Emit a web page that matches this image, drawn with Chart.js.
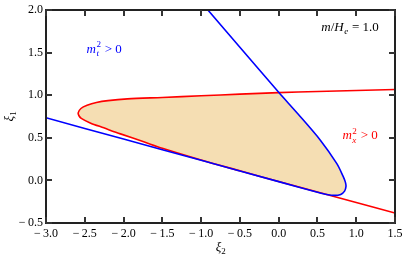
<!DOCTYPE html>
<html>
<head>
<meta charset="utf-8">
<script src="https://cdn.jsdelivr.net/npm/chart.js@4"></script>
<style>
  html, body { margin: 0; padding: 0; background: #fff; }
  canvas { display: block; }
</style>
</head>
<body>
<canvas id="chart" width="407" height="259"></canvas>
<script>
// valori (xi2, xi1)
const redX = [1.5, 1.0, 0.5, 0.0, -0.5, -1.0, -1.5, -1.95, -2.2, -2.35, -2.47, -2.55, -2.585,
              -2.575, -2.545, -2.43, -2.255, -2.04, -1.74, -1.5, -1.0, -0.5, 0.0, 0.5, 1.0, 1.5];
const redY = [1.068, 1.057, 1.045, 1.032, 1.014, 0.995, 0.975, 0.958, 0.938, 0.916, 0.883, 0.845, 0.794,
              0.76, 0.73, 0.676, 0.618, 0.547, 0.454, 0.378, 0.24, 0.113, -0.012, -0.135, -0.258, -0.382];

const blueX = [-3.0, -2.0, -1.0, 0.0, 0.5, 0.62, 0.72, 0.80, 0.85, 0.868, 0.86, 0.83, 0.75, 0.54, 0.25, 0.0, -0.5, -0.91];
const blueY = [0.736, 0.486, 0.236, -0.014, -0.139, -0.166, -0.176, -0.164, -0.125, -0.07, -0.02, 0.05, 0.197, 0.47, 0.78, 1.035, 1.565, 2.0];

const xTicks = [-3.0, -2.5, -2.0, -1.5, -1.0, -0.5, 0.0, 0.5, 1.0, 1.5];
const yTicks = [-0.5, 0.0, 0.5, 1.0, 1.5, 2.0];

const toPoints = (xs, ys) => xs.map((v, i) => ({ x: v, y: ys[i] }));
const redPts = toPoints(redX, redY);
const bluePts = toPoints(blueX, blueY);
// regione colorata: dentro la curva rossa e a sinistra di quella blu
const fillPts = redPts.slice(3, 24).concat(bluePts.slice(5, 16));

const fmt = v => (v < 0 ? '\u2212\u2009' : '') + Math.abs(v).toFixed(1);
const SERIF = '"Liberation Serif", "DejaVu Serif", serif';

// scrive testo "matematico" a pezzi
function richText(ctx, x, y, parts, color, size) {
  ctx.fillStyle = color;
  ctx.textBaseline = 'alphabetic';
  ctx.textAlign = 'left';
  let total = 0;
  const measure = p => {
    if (p.sup !== undefined) {
      ctx.font = (size * 0.7) + 'px ' + SERIF;
      const a = ctx.measureText(p.sup).width;
      ctx.font = 'italic ' + (size * 0.7) + 'px ' + SERIF;
      const b = ctx.measureText(p.sub).width;
      return Math.max(a, b) + 1;
    }
    ctx.font = (p.it ? 'italic ' : '') + size + 'px ' + SERIF;
    return ctx.measureText(p.t).width;
  };
  parts.forEach(p => total += measure(p));
  let cx = x - total / 2;
  parts.forEach(p => {
    const w = measure(p);
    if (p.sup !== undefined) {
      ctx.font = (size * 0.7) + 'px ' + SERIF;
      ctx.fillText(p.sup, cx + 0.5, y - size * 0.42);
      ctx.font = 'italic ' + (size * 0.7) + 'px ' + SERIF;
      ctx.fillText(p.sub, cx + 0.5, y + size * 0.25);
    } else {
      ctx.font = (p.it ? 'italic ' : '') + size + 'px ' + SERIF;
      ctx.fillText(p.t, cx, y);
    }
    cx += w;
  });
}

const decor = {
  id: 'decor',
  afterDraw(chart) {
    const { ctx, chartArea: a, scales } = chart;
    const sx = scales.x, sy = scales.y;
    ctx.save();
    const L = Math.round(a.left), R = Math.round(a.right);
    const T = Math.round(a.top), B = Math.round(a.bottom);

    // cornice
    ctx.fillStyle = '#222222';
    ctx.fillRect(L - 1, T - 1, R - L + 2, 2);
    ctx.fillRect(L - 1, B - 1, R - L + 2, 2);
    ctx.fillRect(L - 1, T - 1, 2, B - T + 2);
    ctx.fillRect(R - 1, T - 1, 2, B - T + 2);

    // tacche verso l'interno su tutti i lati
    ctx.fillStyle = '#333333';
    for (const v of xTicks) {
      const px = Math.round(sx.getPixelForValue(v));
      ctx.fillRect(px - 1, B - 6, 2, 6);
      ctx.fillRect(px - 1, T, 2, 6);
    }
    for (const v of yTicks) {
      const py = Math.round(sy.getPixelForValue(v));
      ctx.fillRect(L, py - 1, 6, 2);
      ctx.fillRect(R - 6, py - 1, 6, 2);
    }

    // etichette degli assi
    ctx.fillStyle = '#000';
    ctx.font = 'italic 13px ' + SERIF;
    ctx.textAlign = 'center';
    ctx.textBaseline = 'middle';
    const cxm = (a.left + a.right) / 2;
    ctx.fillText('\u03BE', cxm - 2, 248);
    ctx.font = '9px ' + SERIF;
    ctx.fillText('2', cxm + 3, 252);

    ctx.save();
    ctx.translate(10, (a.top + a.bottom) / 2);
    ctx.rotate(-Math.PI / 2);
    ctx.font = 'italic 13px ' + SERIF;
    ctx.fillText('\u03BE', -2, 0);
    ctx.font = '9px ' + SERIF;
    ctx.fillText('1', 3, 4);
    ctx.restore();

    // annotazioni
    richText(ctx, sx.getPixelForValue(-2.25), sy.getPixelForValue(1.55) + 4,
      [{ t: 'm', it: true }, { sup: '2', sub: 't' }, { t: ' > 0' }], '#0000ff', 13);
    richText(ctx, sx.getPixelForValue(1.05), sy.getPixelForValue(0.53) + 4,
      [{ t: 'm', it: true }, { sup: '2', sub: 'x' }, { t: ' > 0' }], '#ff0000', 13);
    richText(ctx, sx.getPixelForValue(0.92), sy.getPixelForValue(1.8) + 4,
      [{ t: 'm', it: true }, { t: '/' }, { t: 'H', it: true }, { sup: '', sub: 'e' }, { t: ' = 1.0' }], '#000', 13);

    ctx.restore();
  }
};

new Chart(document.getElementById('chart'), {
  type: 'line',
  data: {
    datasets: [
      {
        label: 'blu',
        data: bluePts,
        borderColor: '#0000ff',
        borderWidth: 1.6,
        pointRadius: 0,
        tension: 0.3,
        fill: false
      },
      {
        label: 'rosso',
        data: redPts,
        borderColor: '#ff0000',
        borderWidth: 1.6,
        pointRadius: 0,
        tension: 0.3,
        fill: false
      },
      {
        label: 'regione',
        data: fillPts,
        borderWidth: 0,
        borderColor: 'rgba(0,0,0,0)',
        backgroundColor: '#f5deb3',
        pointRadius: 0,
        tension: 0.3,
        fill: 'shape'
      }
    ]
  },
  options: {
    responsive: false,
    animation: false,
    layout: { padding: { top: 9, right: 12, left: 0, bottom: 0 } },
    plugins: { legend: { display: false }, tooltip: { enabled: false } },
    scales: {
      x: {
        type: 'linear', min: -3, max: 1.5,
        grid: { display: false, drawTicks: false },
        border: { display: false },
        ticks: {
          stepSize: 0.5, padding: 4, color: '#000', autoSkip: false, maxRotation: 0,
          font: { family: SERIF, size: 12 }, callback: fmt
        },
        afterFit: s => { s.height = 36; }
      },
      y: {
        type: 'linear', min: -0.5, max: 2.0,
        grid: { display: false, drawTicks: false },
        border: { display: false },
        ticks: {
          stepSize: 0.5, padding: 3, color: '#000',
          font: { family: SERIF, size: 12 }, callback: fmt
        },
        afterFit: s => { s.width = 46; }
      }
    }
  },
  plugins: [decor]
});
</script>
</body>
</html>
